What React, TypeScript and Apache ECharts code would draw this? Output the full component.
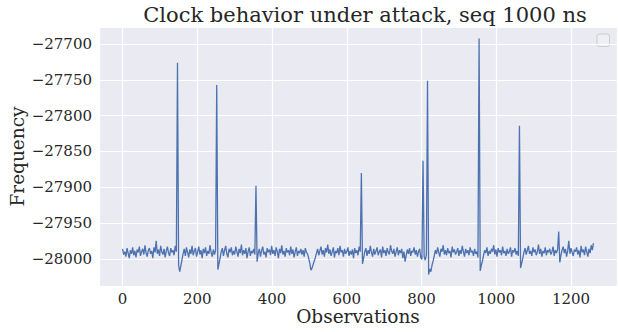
import React, { useEffect, useRef } from "react";
import * as echarts from "echarts";

// Frequency readings, one every 3 observations (obs 0 .. 1260)
const frequency: number[] = [
  -27986, -27994, -27990, -27997, -27985, -27992, -27999, -27988, -27993, -27984,
  -27995, -27989, -27998, -27987, -27991, -27983, -27996, -27990, -27986, -27994,
  -27981, -27992, -27997, -27988, -27985, -27993, -27989, -27999, -27984, -27991,
  -27975, -27993, -27987, -27996, -27982, -27990, -27994, -27986, -27998, -27989,
  -27983, -27992, -27996, -27985, -27991, -27988, -27995, -27982, -27990,
  -27726,
  -28009, -28018, -28010, -28001,
  -27993, -27986, -27996, -27984, -27991, -27998, -27987, -27993, -27982, -27995,
  -27989, -27985, -27997, -27990, -27983, -27994, -27988, -27999, -27986, -27992,
  -27984, -27996, -27989, -27993, -27981, -27991, -27997, -27987, -27994, -27988,
  -27757,
  -28015, -28007, -27999,
  -27990, -27985, -27996, -27988, -27982, -27993, -27998, -27986, -27991, -27984,
  -27995, -27989, -27994, -27983, -27990, -27997, -27986, -27992, -27980, -27995,
  -27988, -27993, -27985, -27999, -27990, -27984, -27996, -27989, -27992, -27986,
  -27994,
  -27898,
  -28004,
  -27992, -27986, -27997, -27989, -27983, -27994, -27990, -27998, -27985, -27991,
  -27987, -27995, -27982, -27993, -27988, -27996, -27984, -27990, -27999, -27986,
  -27992, -27981, -27994, -27989, -27997, -27985, -27991, -27988, -27995, -27983,
  -27993, -27987, -27998, -27990, -27984, -27996, -27989, -27992, -27986, -27994,
  -27988, -27997, -27985, -27991, -27993, -27999,
  -28006, -28016, -28013, -28008, -28003, -27998,
  -27992, -27986, -27995, -27989, -27983, -27994, -27988, -27997, -27985, -27991,
  -27980, -27993, -27987, -27996, -27990, -27984, -27998, -27989, -27992, -27985,
  -27995, -27982, -27991, -27988, -27997, -27986, -27993, -27990, -27984, -27996,
  -27989, -27994, -27987, -27999, -27985, -27992, -27988, -27995, -27983, -27990,
  -27880,
  -28007, -27999,
  -27990, -27985, -27996, -27988, -27993, -27982, -27991, -27997, -27986, -27994,
  -27989, -27984, -27995, -27990, -27987, -27998, -27983, -27992, -27988, -27996,
  -27985, -27991, -27994, -27981, -27989, -27993, -27986, -27997, -27990, -27984,
  -27995, -27988, -27992, -27986, -27999, -27990, -28004, -27995, -27987, -27993,
  -27985, -27996, -27989, -27991, -27984, -27994, -27988, -27997, -27990, -27986,
  -27998, -28001,
  -27863,
  -27997, -28002, -27994,
  -27751,
  -28022, -28014, -28018, -28009, -28003,
  -27996, -27988, -27993, -27984, -27991, -27997, -27986, -27990, -27981, -27994,
  -27988, -27995, -27985, -27992, -27989, -27998, -27983, -27991, -27987, -27994,
  -27990, -27985, -27996, -27988, -27993, -27982, -27990, -27997, -27986, -27992,
  -27988, -27995, -27984, -27991, -27989, -27996, -27986, -27993, -27990, -27998,
  -27692,
  -28017, -28009, -28003,
  -27995, -27988, -27992, -27984, -27996, -27989, -27993, -27986, -27990, -27981,
  -27994, -27987, -27997, -27985, -27991, -27988, -27995, -27983, -27992, -27989,
  -27996, -27986, -27993, -27990, -27984, -27997, -27988, -27991, -27985, -27994,
  -27989, -27996,
  -27814,
  -28013, -28006, -27999,
  -27991, -27985, -27994, -27988, -27982, -27993, -27989, -27996, -27984, -27991,
  -27987, -27995, -27990, -27980, -27993, -27986, -27997, -27989, -27992, -27984,
  -27995, -27988, -27991, -27986, -27994, -27990, -27983, -27996, -27988, -27992,
  -27987,
  -27962,
  -28005,
  -27995, -27988, -27983, -27992, -27986, -27997, -27989, -27975, -27993, -27985,
  -27991, -27996, -27987, -27990, -27984, -27994, -27988, -27998, -27982, -27991,
  -27987, -27995, -27983, -27990, -27997, -27986, -27992, -27981, -27988, -27978,
];

const observationStep = 3;
const observations: number[] = frequency.map((_, i) => i * observationStep);

const xTickValues = [0, 200, 400, 600, 800, 1000, 1200];
const yTickValues = [-28000, -27950, -27900, -27850, -27800, -27750, -27700];

const titleText = "Clock behavior under attack, seq 1000 ns";
const xName = "Observations";
const yName = "Frequency";

const FONT = "DejaVu Serif";
const TEXT = "#262626";

const fmt = (v: number) => (v < 0 ? "\u2212" + Math.abs(v) : String(v));

export default function App() {
  const ref = useRef<HTMLDivElement>(null);
  useEffect(() => {
    document.body.style.margin = "0";
    if (!ref.current) return;
    const chart = echarts.init(ref.current, undefined, { renderer: "svg" });
    const data = observations.map((x, i) => [x, frequency[i]]);
    chart.setOption({
      animation: false,
      backgroundColor: "#ffffff",
      grid: {
        left: 99,
        right: 1,
        top: 27,
        bottom: 46,
        show: true,
        backgroundColor: "#EAEAF2",
        borderWidth: 0,
        containLabel: false,
        outerBoundsMode: "none",
      },
      xAxis: {
        type: "value",
        min: -63,
        max: 1323,
        splitNumber: 7,
        name: xName,
        nameLocation: "middle",
        nameGap: 21,
        nameMoveOverlap: false,
        nameTextStyle: { fontFamily: FONT, fontSize: 18.5, color: TEXT },
        axisLine: { show: false },
        axisTick: { show: false },
        splitLine: { show: true, lineStyle: { color: "#ffffff", width: 1.2 } },
        axisLabel: {
          fontFamily: FONT,
          fontSize: 15,
          color: TEXT,
          margin: 5,
          showMinLabel: false,
          showMaxLabel: false,
          formatter: (v: number) => (xTickValues.includes(v) ? fmt(v) : ""),
        },
      },
      yAxis: {
        type: "value",
        min: -28038,
        max: -27676,
        splitNumber: 7,
        name: yName,
        nameLocation: "middle",
        nameRotate: 90,
        nameGap: 72,
        nameMoveOverlap: false,
        nameTextStyle: { fontFamily: FONT, fontSize: 18.5, color: TEXT },
        axisLine: { show: false },
        axisTick: { show: false },
        splitLine: { show: true, lineStyle: { color: "#ffffff", width: 1.2 } },
        axisLabel: {
          fontFamily: FONT,
          fontSize: 15,
          color: TEXT,
          margin: 7,
          showMinLabel: false,
          showMaxLabel: false,
          formatter: (v: number) => (yTickValues.includes(v) ? fmt(v) : ""),
        },
      },
      graphic: [
        {
          type: "text",
          x: 365,
          y: 4,
          style: {
            text: titleText,
            fontFamily: FONT,
            fontSize: 21,
            fill: TEXT,
            textAlign: "center",
            textVerticalAlign: "top",
          },
        },
        {
          type: "rect",
          shape: { x: 597, y: 34, width: 12.5, height: 12.5, r: 2 },
          style: { fill: "#EEEEF4", stroke: "#cccccc", lineWidth: 1 },
        },
      ],
      series: [
        {
          type: "line",
          data,
          showSymbol: false,
          symbol: "none",
          lineStyle: { color: "#4C72B0", width: 1.3 },
          itemStyle: { color: "#4C72B0" },
        },
      ],
    });
    return () => chart.dispose();
  }, []);
  return <div ref={ref} style={{ width: 618, height: 332 }} />;
}
